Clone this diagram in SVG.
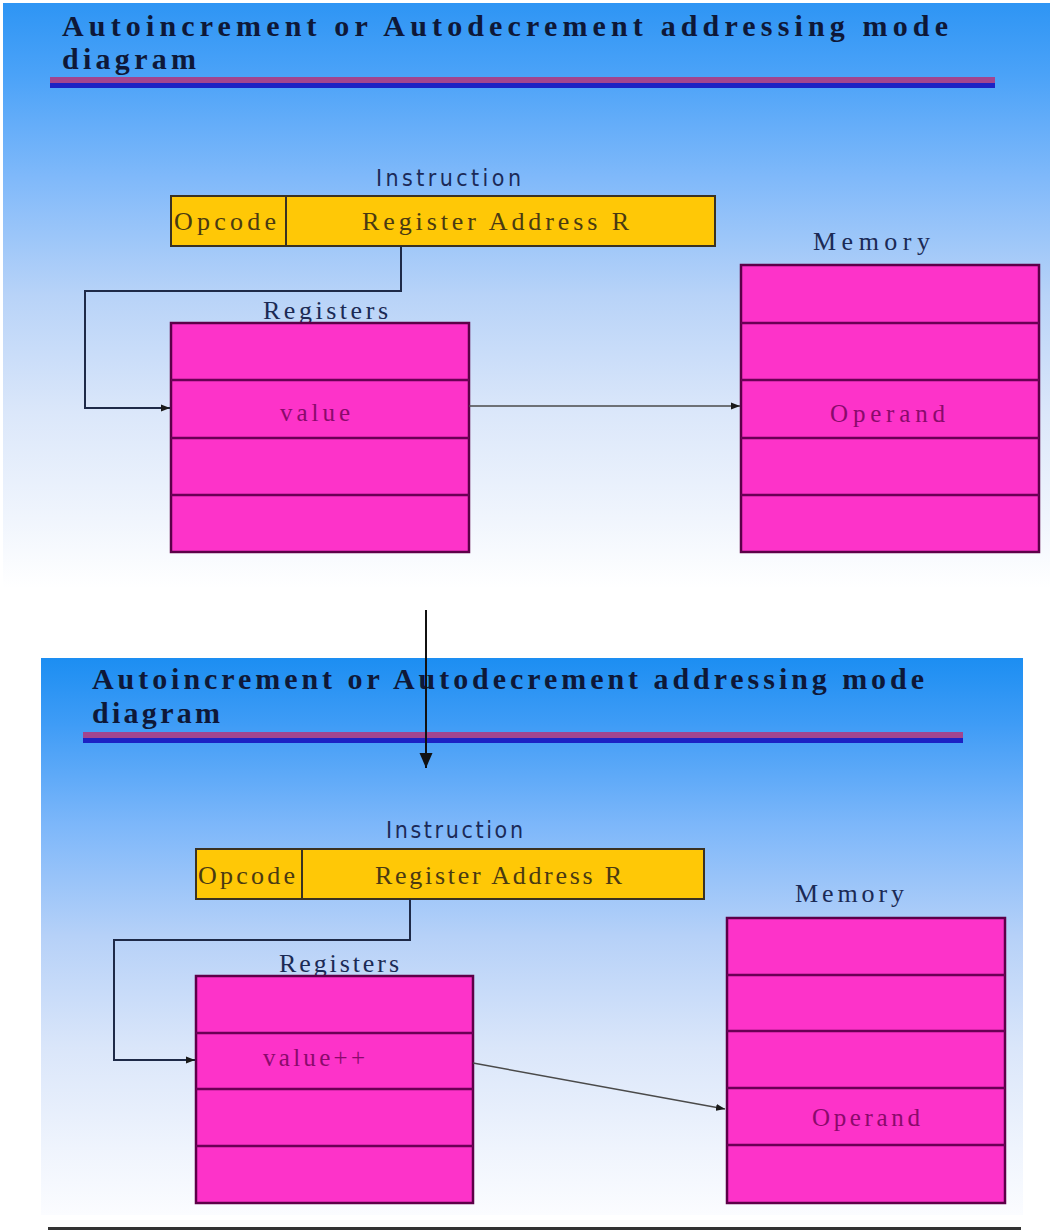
<svg xmlns="http://www.w3.org/2000/svg" width="1050" height="1232" viewBox="0 0 1050 1232">
  <defs>
    <linearGradient id="slideTop" x1="0" y1="0" x2="0" y2="1">
      <stop offset="0" stop-color="#2e95f4"/>
      <stop offset="0.12" stop-color="#4aa2f8"/>
      <stop offset="0.3" stop-color="#80b9fa"/>
      <stop offset="0.5" stop-color="#b8d3f8"/>
      <stop offset="0.7" stop-color="#dbe7fa"/>
      <stop offset="0.88" stop-color="#f0f5fd"/>
      <stop offset="1" stop-color="#ffffff"/>
    </linearGradient>
    <linearGradient id="slideBottom" x1="0" y1="0" x2="0" y2="1">
      <stop offset="0" stop-color="#1c8ef2"/>
      <stop offset="0.12" stop-color="#3f9cf6"/>
      <stop offset="0.3" stop-color="#7db7fa"/>
      <stop offset="0.5" stop-color="#b6d1f8"/>
      <stop offset="0.7" stop-color="#dae6fa"/>
      <stop offset="0.88" stop-color="#eff4fd"/>
      <stop offset="1" stop-color="#fbfcff"/>
    </linearGradient>
    <marker id="arrowSmall" markerUnits="userSpaceOnUse" markerWidth="10" markerHeight="8" refX="9" refY="4" orient="auto">
      <path d="M0,0.5 L9,4 L0,7.5 z" fill="#1a1a1a"/>
    </marker>
    <marker id="arrowBig" markerUnits="userSpaceOnUse" markerWidth="16" markerHeight="14" refX="15" refY="7" orient="auto">
      <path d="M0,0.5 L15,7 L0,13.5 z" fill="#111"/>
    </marker>
  </defs>
  <style>
    .title { font-family: "Liberation Serif", "Times New Roman", serif; font-weight: bold; font-size: 30px; fill: #0e1838; }
    .label { font-family: "DejaVu Sans Condensed", "DejaVu Sans", sans-serif; font-size: 23px; fill: #1b2a58; }
    .caption { font-family: "Liberation Serif", "Times New Roman", serif; font-size: 26px; fill: #1b2a55; }
    .field { font-family: "Liberation Serif", "Times New Roman", serif; font-size: 26px; fill: #4a3a12; }
    .cell { font-family: "Liberation Serif", "Times New Roman", serif; font-size: 25px; fill: #8a0a6c; }
    .instr { fill: #ffc806; stroke: #3a3222; stroke-width: 2; }
    .divider { stroke: #3a3222; stroke-width: 2; }
    .stack { fill: #fd33c9; stroke: #5c0048; stroke-width: 2.5; }
    .row { stroke: #6a0055; stroke-width: 2.5; }
    .link { fill: none; stroke: #1e2a48; stroke-width: 2; }
    .ptr { fill: none; stroke: #4a4a4a; stroke-width: 1.5; }
    .flow { fill: none; stroke: #111; stroke-width: 2; }
  </style>

  <rect width="1050" height="1232" fill="#ffffff"/>

  <!-- slide backgrounds with headings -->
  <g id="slide-top">
    <rect x="3" y="3" width="1047" height="585" fill="url(#slideTop)"/>
    <text class="title" x="62" y="36" textLength="886" lengthAdjust="spacing">Autoincrement or Autodecrement addressing mode</text>
    <text class="title" x="62" y="69" textLength="134" lengthAdjust="spacing">diagram</text>
    <rect x="50" y="77" width="945" height="6" fill="#a2458f"/>
    <rect x="50" y="83" width="945" height="5" fill="#1c22c4"/>
  </g>
  <g id="slide-bottom">
    <rect x="41" y="658" width="982" height="557" fill="url(#slideBottom)"/>
    <text class="title" x="92" y="689" textLength="832" lengthAdjust="spacing">Autoincrement or Autodecrement addressing mode</text>
    <text class="title" x="92" y="723" textLength="128" lengthAdjust="spacing">diagram</text>
    <rect x="83" y="732" width="880" height="6" fill="#a2458f"/>
    <rect x="83" y="738" width="880" height="5" fill="#1c22c4"/>
    <rect x="48" y="1227" width="973" height="3" fill="#333333"/>
  </g>

  <!-- before: instruction, registers, memory -->
  <g id="instruction-1">
    <text class="label" x="376" y="186" textLength="145" lengthAdjust="spacing">Instruction</text>
    <rect class="instr" x="171" y="196" width="544" height="50"/>
    <line class="divider" x1="286" y1="196" x2="286" y2="246"/>
    <text class="field" x="174" y="230" textLength="102" lengthAdjust="spacing">Opcode</text>
    <text class="field" x="362" y="230" textLength="267" lengthAdjust="spacing">Register Address R</text>
  </g>
  <g id="registers-1">
    <text class="caption" x="263" y="319" textLength="125" lengthAdjust="spacing">Registers</text>
    <rect class="stack" x="171" y="323" width="298" height="229"/>
    <line class="row" x1="171" y1="380" x2="469" y2="380"/>
    <line class="row" x1="171" y1="438" x2="469" y2="438"/>
    <line class="row" x1="171" y1="495" x2="469" y2="495"/>
    <text class="cell" x="280" y="421" textLength="70" lengthAdjust="spacing">value</text>
  </g>
  <g id="memory-1">
    <text class="caption" x="813" y="250" textLength="117" lengthAdjust="spacing">Memory</text>
    <rect class="stack" x="741" y="265" width="298" height="287"/>
    <line class="row" x1="741" y1="323" x2="1039" y2="323"/>
    <line class="row" x1="741" y1="380" x2="1039" y2="380"/>
    <line class="row" x1="741" y1="438" x2="1039" y2="438"/>
    <line class="row" x1="741" y1="495" x2="1039" y2="495"/>
    <text class="cell" x="830" y="422" textLength="115" lengthAdjust="spacing">Operand</text>
  </g>

  <!-- after: instruction, registers, memory -->
  <g id="instruction-2">
    <text class="label" x="386" y="838" textLength="137" lengthAdjust="spacing">Instruction</text>
    <rect class="instr" x="196" y="849" width="508" height="50"/>
    <line class="divider" x1="302" y1="849" x2="302" y2="899"/>
    <text class="field" x="198" y="884" textLength="97" lengthAdjust="spacing">Opcode</text>
    <text class="field" x="375" y="884" textLength="247" lengthAdjust="spacing">Register Address R</text>
  </g>
  <g id="registers-2">
    <text class="caption" x="279" y="972" textLength="120" lengthAdjust="spacing">Registers</text>
    <rect class="stack" x="196" y="976" width="277" height="227"/>
    <line class="row" x1="196" y1="1033" x2="473" y2="1033"/>
    <line class="row" x1="196" y1="1089" x2="473" y2="1089"/>
    <line class="row" x1="196" y1="1146" x2="473" y2="1146"/>
    <text class="cell" x="263" y="1066" textLength="102" lengthAdjust="spacing">value++</text>
  </g>
  <g id="memory-2">
    <text class="caption" x="795" y="902" textLength="109" lengthAdjust="spacing">Memory</text>
    <rect class="stack" x="727" y="918" width="278" height="285"/>
    <line class="row" x1="727" y1="975" x2="1005" y2="975"/>
    <line class="row" x1="727" y1="1031" x2="1005" y2="1031"/>
    <line class="row" x1="727" y1="1088" x2="1005" y2="1088"/>
    <line class="row" x1="727" y1="1145" x2="1005" y2="1145"/>
    <text class="cell" x="812" y="1126" textLength="108" lengthAdjust="spacing">Operand</text>
  </g>

  <!-- connectors -->
  <g id="connectors">
    <path class="link" d="M401,246 V291 H85 V408 H170" marker-end="url(#arrowSmall)"/>
    <path class="ptr" d="M469,406 H740" marker-end="url(#arrowSmall)"/>
    <path class="flow" d="M426,610 V768" marker-end="url(#arrowBig)"/>
    <path class="link" d="M410,899 V940 H114 V1060 H195" marker-end="url(#arrowSmall)"/>
    <path class="ptr" d="M473,1063 L725,1109" marker-end="url(#arrowSmall)"/>
  </g>
</svg>
